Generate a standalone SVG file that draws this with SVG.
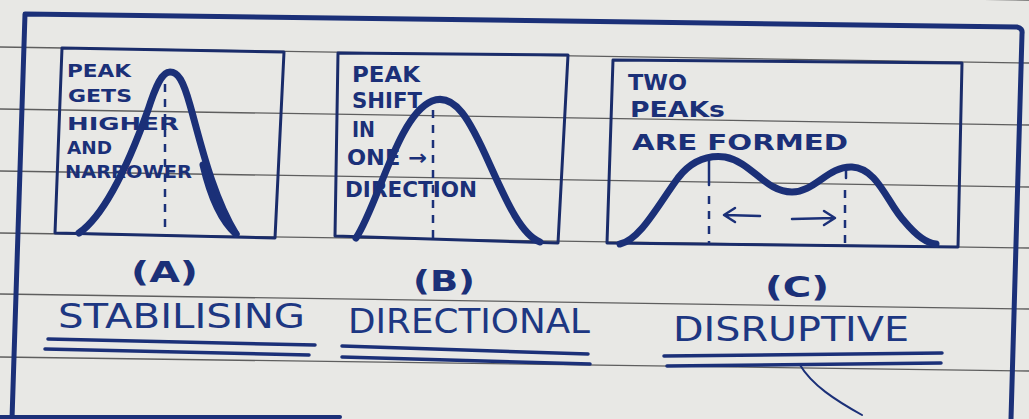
<svg xmlns="http://www.w3.org/2000/svg" width="1029" height="419" viewBox="0 0 1029 419">
<style>
.rule{stroke:#5e5e5e;stroke-width:1.3;fill:none}
.ink{stroke:#1b3078;fill:none;stroke-linecap:round;stroke-linejoin:round}
.box{stroke:#1a2c6a;stroke-width:3;fill:none;stroke-linejoin:round}
.curve{stroke:#1b3078;stroke-width:7;fill:none;stroke-linecap:round}
.dash{stroke:#1b3078;stroke-width:2.5;stroke-dasharray:8 7;fill:none}
.bt{font-family:"DejaVu Sans","Liberation Sans",sans-serif;font-weight:bold;font-size:21px;fill:#1b3078}
.bs{font-family:"DejaVu Sans","Liberation Sans",sans-serif;font-weight:bold;font-size:18px;fill:#1b3078}
.lab{font-family:"DejaVu Sans","Liberation Sans",sans-serif;font-weight:bold;font-size:28px;fill:#1b3078}
.name{font-family:"DejaVu Sans","Liberation Sans",sans-serif;font-size:33px;fill:#1d3782}
</style>
<rect width="1029" height="419" fill="#e8e8e5"/>
<g id="paper-lines">
<line class="rule" x1="0" y1="-15" x2="1029" y2="0"/>
<line class="rule" x1="0" y1="47" x2="1029" y2="63"/>
<line class="rule" x1="0" y1="109" x2="1029" y2="125"/>
<line class="rule" x1="0" y1="171" x2="1029" y2="187"/>
<line class="rule" x1="0" y1="233" x2="1029" y2="248"/>
<line class="rule" x1="0" y1="294" x2="1029" y2="309"/>
<line class="rule" x1="0" y1="357" x2="1029" y2="371"/>
</g>
<g id="outer-border">
<path class="ink" stroke-width="5" d="M12 419 L25 14 L1017 27 Q1023 28 1022 34 L1011 419"/>
<path class="ink" stroke-width="4" d="M0 417 L340 417"/>
</g>
<g id="panel-a">
<path class="box" d="M62 48 L284 52 L275 238 L55 233 Z"/>
<line class="dash" x1="165" y1="84" x2="165" y2="233"/>
<path class="curve" d="M79 233 C105 215 130 160 148 110 C156 85 162 72 170 72 C178 72 183 80 190 105 C200 140 212 195 236 234"/>
<path class="curve" stroke-width="10" d="M203 165 C210 195 220 220 236 234"/>
<text class="bs" x="67" y="77" textLength="64" lengthAdjust="spacingAndGlyphs">PEAK</text>
<text class="bs" x="68" y="102" textLength="64" lengthAdjust="spacingAndGlyphs">GETS</text>
<text class="bs" x="67" y="130" textLength="112" lengthAdjust="spacingAndGlyphs">HIGHER</text>
<text class="bs" x="67" y="154" textLength="45" lengthAdjust="spacingAndGlyphs">AND</text>
<text class="bs" x="65" y="178" textLength="127" lengthAdjust="spacingAndGlyphs">NARROWER</text>
<text class="lab" x="131" y="282" textLength="67" lengthAdjust="spacingAndGlyphs">(A)</text>
<text class="name" x="58" y="328" textLength="247" lengthAdjust="spacingAndGlyphs">STABILISING</text>
<path class="ink" stroke-width="3.5" d="M48 339 L315 345"/>
<path class="ink" stroke-width="3.5" d="M45 349 L309 355"/>
</g>
<g id="panel-b">
<path class="box" d="M338 53 L568 55 L558 243 L335 236 Z"/>
<line class="dash" x1="433" y1="110" x2="433" y2="240"/>
<path class="curve" stroke-width="8" d="M356 238 C378 205 398 115 432 101 C455 92 470 120 490 165 C508 205 522 235 540 242"/>
<text class="bt" x="352" y="82" textLength="68" lengthAdjust="spacingAndGlyphs">PEAK</text>
<text class="bt" x="352" y="108" textLength="70" lengthAdjust="spacingAndGlyphs">SHIFT</text>
<text class="bt" x="352" y="137" textLength="23" lengthAdjust="spacingAndGlyphs">IN</text>
<text class="bt" x="347" y="165" textLength="80" lengthAdjust="spacingAndGlyphs">ONE →</text>
<text class="bt" x="345" y="197" textLength="132" lengthAdjust="spacingAndGlyphs">DIRECTION</text>
<text class="lab" x="413" y="291" textLength="62" lengthAdjust="spacingAndGlyphs">(B)</text>
<text class="name" x="348" y="333" textLength="242" lengthAdjust="spacingAndGlyphs">DIRECTIONAL</text>
<path class="ink" stroke-width="3.5" d="M342 346 L588 354"/>
<path class="ink" stroke-width="3.5" d="M342 357 L590 364"/>
</g>
<g id="panel-c">
<path class="box" d="M613 60 L962 63 L958 247 L607 243 Z"/>
<path class="curve" stroke-width="6" d="M620 244 C640 240 658 205 678 178 C692 160 708 155 725 157 C752 162 765 192 792 192 C815 192 828 166 852 167 C878 168 888 205 905 222 C915 234 925 243 936 244"/>
<line class="ink" stroke-width="2.5" x1="709" y1="158" x2="709" y2="185"/>
<line class="dash" x1="709" y1="196" x2="709" y2="244"/>
<line class="ink" stroke-width="2.5" x1="846" y1="168" x2="846" y2="178"/>
<line class="dash" x1="845" y1="190" x2="845" y2="245"/>
<path class="ink" stroke-width="2.5" d="M760 216 L725 215 M735 208 L724 215 L735 222"/>
<path class="ink" stroke-width="2.5" d="M792 219 L834 218 M824 211 L835 218 L824 225"/>
<text class="bt" x="628" y="90" textLength="59" lengthAdjust="spacingAndGlyphs">TWO</text>
<text class="bt" x="630" y="117" textLength="95" lengthAdjust="spacingAndGlyphs">PEAKs</text>
<text class="bt" x="632" y="150" textLength="216" lengthAdjust="spacingAndGlyphs">ARE FORMED</text>
<text class="lab" x="765" y="297" textLength="64" lengthAdjust="spacingAndGlyphs">(C)</text>
<text class="name" x="673" y="341" textLength="236" lengthAdjust="spacingAndGlyphs">DISRUPTIVE</text>
<path class="ink" stroke-width="3.5" d="M664 356 L942 353"/>
<path class="ink" stroke-width="3.5" d="M667 366 L941 363"/>
<path class="ink" stroke-width="2" d="M800 365 C812 385 835 400 862 415"/>
</g>
</svg>
